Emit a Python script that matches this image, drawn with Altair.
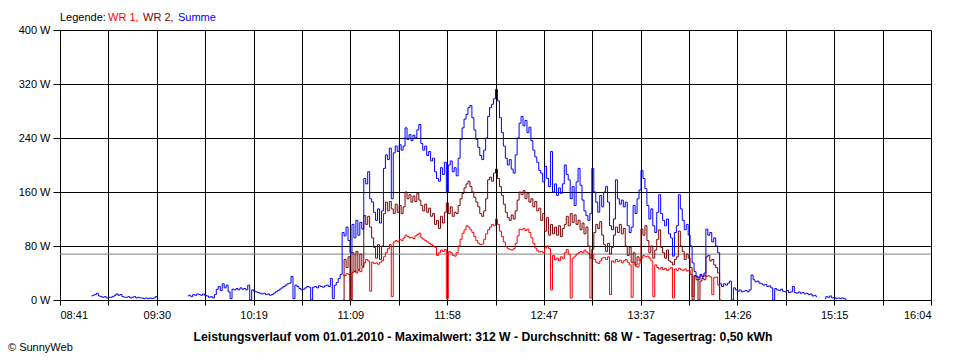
import altair as alt
import pandas as pd

FONT = "Liberation Sans"
T0 = 521          # 08:41 in minutes after midnight (left edge)
T1 = 964          # 16:04 (right edge)
N_GRID = 18       # vertical grid intervals

tick_labels = ["08:41", "09:30", "10:19", "11:09", "11:58", "12:47", "13:37", "14:26", "15:15", "16:04"]
y_ticks = [0, 80, 160, 240, 320, 400]
AVERAGE_W = 68
series_names = ["WR 1", "WR 2", "Summe"]
series_colors = ["#FF0000", "#800000", "#0000FF"]

# Summe (total), 1-minute samples, start given in minutes after 08:41
summe_seg1_start = 16
summe_seg1 = [6, 7, 8, 10, 6, 5, 4, 5, 3, 4, 4, 5, 7, 9, 7, 8, 5, 4, 4, 5,
              3, 4, 5, 3, 4, 3, 3, 2, 3, 2, 3, 2, 3, 5, 2]
summe_seg2_start = 65
summe_seg2 = [6, 7, 5, 8, 7, 9, 8, 7, 9, 7, 6, 4, 5, 3, 8,
              16, 20, 14, 24, 18, 22, 12, 2, 16, 15, 17, 15, 18, 16, 17, 15, 22, 0, 15, 13,
              12, 11, 10, 9, 10, 8, 9, 7, 8, 10, 12, 14, 16, 18, 20, 22, 24, 25, 35, 2,
              22, 20, 17, 15, 16, 18, 20, 19, 0, 19, 20, 18, 21, 20, 19, 21, 22, 20, 32, 2, 22, 26, 32, 38,
              100, 95, 108, 88, 70, 112, 92, 118, 96, 115,
              105, 180, 172, 190, 150, 145, 130, 118, 135, 114,
              132, 195, 215, 208, 225, 150, 218, 228, 220, 230,
              222, 228, 255, 238, 245, 236, 244, 240, 252, 260,
              232, 222, 228, 214, 220, 206, 210, 190, 180, 176,
              196, 186, 204, 160, 200, 206, 190, 196, 184, 210,
              238, 255, 268, 275, 285, 288, 270, 252, 238, 226,
              214, 208, 222, 240, 272, 285, 290, 298, 312, 295,
              270, 248, 228, 210, 200, 208, 194, 188, 215, 240,
              262, 272, 258, 266, 248, 256, 236, 222, 212, 204,
              192, 188, 175, 198, 180, 168, 220, 160, 172, 155,
              166, 158, 172, 200, 186, 178, 150, 168, 140, 175,
              195, 170, 148, 132, 125, 118, 128, 195, 160, 145,
              130, 155, 138, 160, 168, 145, 110, 104, 120, 178,
              150, 142, 148, 138, 145, 110, 100, 108, 140, 128,
              150, 163, 192, 180, 165, 140, 120, 135, 110, 100,
              130, 156, 128, 118, 110, 120, 98, 92, 65, 100,
              110, 156, 135, 118, 104, 112, 96, 80, 55, 42,
              35, 30, 38, 34, 40, 105, 96, 100, 86, 92,
              80, 70, 24,
              20, 24, 22, 25, 28, 0, 18, 15, 13, 15,
              12, 13, 14, 12, 15, 37, 30, 27, 28, 25,
              24, 22, 23, 20, 21, 18, 0, 17, 15, 14,
              16, 13, 12, 14, 11, 12, 20, 11, 10, 12,
              10, 11, 9, 10, 8, 9, 6, 7, 5]
summe_seg3_start = 389
summe_seg3 = [2, 5, 4, 6, 3, 4, 2, 3, 2, 3, 2, 1]

wr_start = 144
wr1 = [37, 36, 39, 38, 0, 41, 43, 40, 44, 42,
       48, 55, 60, 58, 13, 56, 54, 55, 53, 56,
       58, 64, 70, 76, 82, 5, 86, 88, 86, 90,
       88, 92, 96, 94, 92, 93, 91, 95, 97, 99,
       92, 90, 88, 86, 84, 82, 80, 78, 66, 70,
       74, 72, 75, 2, 72, 70, 66, 65, 70, 80,
       90, 99, 104, 110, 108, 104, 100, 94, 88, 84,
       82, 83, 90, 98, 104, 108, 112, 110, 120, 112,
       102, 94, 86, 79, 76, 75, 74, 76, 84, 95,
       105, 104, 106, 103, 105, 100, 92, 84, 77, 73,
       71, 72, 70, 77, 80, 76, 15, 66, 60, 62,
       58, 64, 61, 70, 75, 68, 3, 62, 65, 68,
       70, 72, 70, 74, 71, 69, 3, 68, 60, 56,
       54, 58, 62, 63, 60, 64, 8, 58, 56, 60,
       57, 59, 55, 58, 60, 56, 52, 4, 56, 50,
       49, 55, 62, 66, 64, 65, 62, 58, 5, 52,
       48, 46, 48, 45, 47, 44, 46, 48, 3, 46,
       44, 47, 45, 44, 46, 43, 44, 38, 5, 36,
       34, 33, 36, 35, 37, 35, 36, 34, 8, 33,
       34, 22, 0]
wr2 = [0, 60, 48, 64, 0, 70, 42, 72, 45, 68,
       50, 125, 112, 124, 108, 92, 78, 62, 82, 60,
       80, 128, 145, 132, 146, 135, 128, 142, 130, 140,
       128, 138, 160, 150, 156, 145, 154, 146, 158, 148,
       140, 132, 142, 130, 136, 124, 128, 112, 118, 106,
       124, 114, 130, 144, 128, 138, 124, 130, 128, 140,
       150, 158, 166, 172, 176, 168, 160, 152, 145, 138,
       128, 124, 132, 150, 178, 182, 176, 188, 194, 180,
       168, 155, 142, 130, 122, 118, 126, 120, 132, 148,
       160, 156, 162, 150, 158, 145, 150, 138, 146, 132,
       136, 118, 128, 102, 122, 96, 112, 98, 108, 96,
       110, 94, 106, 112, 124, 110, 128, 115, 126, 112,
       118, 104, 114, 98, 108, 80, 62, 75, 100, 112,
       106, 116, 96, 82, 72, 84, 68, 78, 96, 108,
       100, 112, 98, 106, 80, 66, 78, 56, 70, 52,
       64, 58, 105, 96, 110, 88, 70, 80, 62, 74,
       90, 104, 78, 70, 62, 74, 58, 56, 52, 60,
       64, 102, 80, 72, 60, 68, 62, 48, 0, 36,
       30, 0, 28, 32, 30, 64, 66, 58, 60, 52,
       48, 40, 0]


def segment(start, values, name, seg_id):
    return pd.DataFrame({
        "t": [T0 + start + i for i in range(len(values))],
        "W": values,
        "series": name,
        "seg": seg_id,
    })


df = pd.concat([
    segment(wr_start, wr1, "WR 1", "a"),
    segment(wr_start, wr2, "WR 2", "b"),
    segment(summe_seg1_start, summe_seg1, "Summe", "c1"),
    segment(summe_seg2_start, summe_seg2, "Summe", "c2"),
    segment(summe_seg3_start, summe_seg3, "Summe", "c3"),
], ignore_index=True)

step = (T1 - T0) / N_GRID
grid_vals = [T0 + i * step for i in range(N_GRID + 1)]
all_labels = []
for i in range(N_GRID + 1):
    all_labels.append(tick_labels[i // 2] if i % 2 == 0 else "")
x_label_expr = "[" + ",".join("'" + s + "'" for s in all_labels) + "][round((datum.value - %d) / %.6f)]" % (T0, step)

x_scale = alt.Scale(domain=[T0, T1], nice=False, zero=False)
y_scale = alt.Scale(domain=[0, 400], nice=False)

x_axis = alt.Axis(values=grid_vals, labelExpr=x_label_expr, title=None, grid=True,
                  gridColor="black", gridOpacity=1, gridWidth=1, domain=False,
                  tickColor="black", tickSize=5, labelPadding=4, labelAngle=0,
                  labelFont=FONT, labelFontSize=11, labelColor="black", labelOverlap=False)
y_axis = alt.Axis(values=y_ticks, labelExpr="datum.value + ' W'", title=None, grid=True,
                  gridColor="black", gridOpacity=1, gridWidth=1, domain=False,
                  tickColor="black", tickSize=7, labelPadding=3,
                  labelFont=FONT, labelFontSize=11, labelColor="black")

color_scale = alt.Scale(domain=series_names, range=series_colors)

base = alt.Chart(df).mark_line(strokeWidth=1, interpolate="step").encode(
    x=alt.X("t:Q", scale=x_scale, axis=x_axis),
    y=alt.Y("W:Q", scale=y_scale, axis=y_axis),
    color=alt.Color("series:N", scale=color_scale, legend=None),
    detail="seg:N",
)

avg = alt.Chart(pd.DataFrame({"W": [AVERAGE_W]})).mark_rule(color="#808080", strokeWidth=1).encode(
    y=alt.Y("W:Q", scale=y_scale)
)

layers = [avg]
for name in series_names:
    layers.append(base.transform_filter(alt.datum.series == name))

dummy = pd.DataFrame({"a": [0]})


def label(text, x, y, color="black", size=11, weight="normal", align="left"):
    return alt.Chart(dummy).mark_text(
        text=text, color=color, fontSize=size, fontWeight=weight, align=align,
        baseline="alphabetic", font=FONT
    ).encode(x=alt.value(x), y=alt.value(y))


layers += [
    label("Legende:", 0, -9),
    label("WR 1,", 48, -9, color=series_colors[0]),
    label("WR 2,", 83, -9, color=series_colors[1]),
    label("Summe", 118, -9, color=series_colors[2]),
    label("Leistungsverlauf vom 01.01.2010 - Maximalwert: 312 W - Durchschnitt: 68 W - Tagesertrag: 0,50 kWh",
          423, 311, size=12.2, weight="bold", align="center"),
    label("\u00a9 SunnyWeb", -52, 321),
]

chart = alt.layer(*layers).properties(
    width=871, height=270,
    autosize=alt.AutoSizeParams(type="none"),
    padding={"left": 52, "top": 22, "right": 20, "bottom": 56},
    background="white",
).configure_view(stroke=None)

chart.save("out.html", embed_options={"renderer": "svg", "actions": False})
